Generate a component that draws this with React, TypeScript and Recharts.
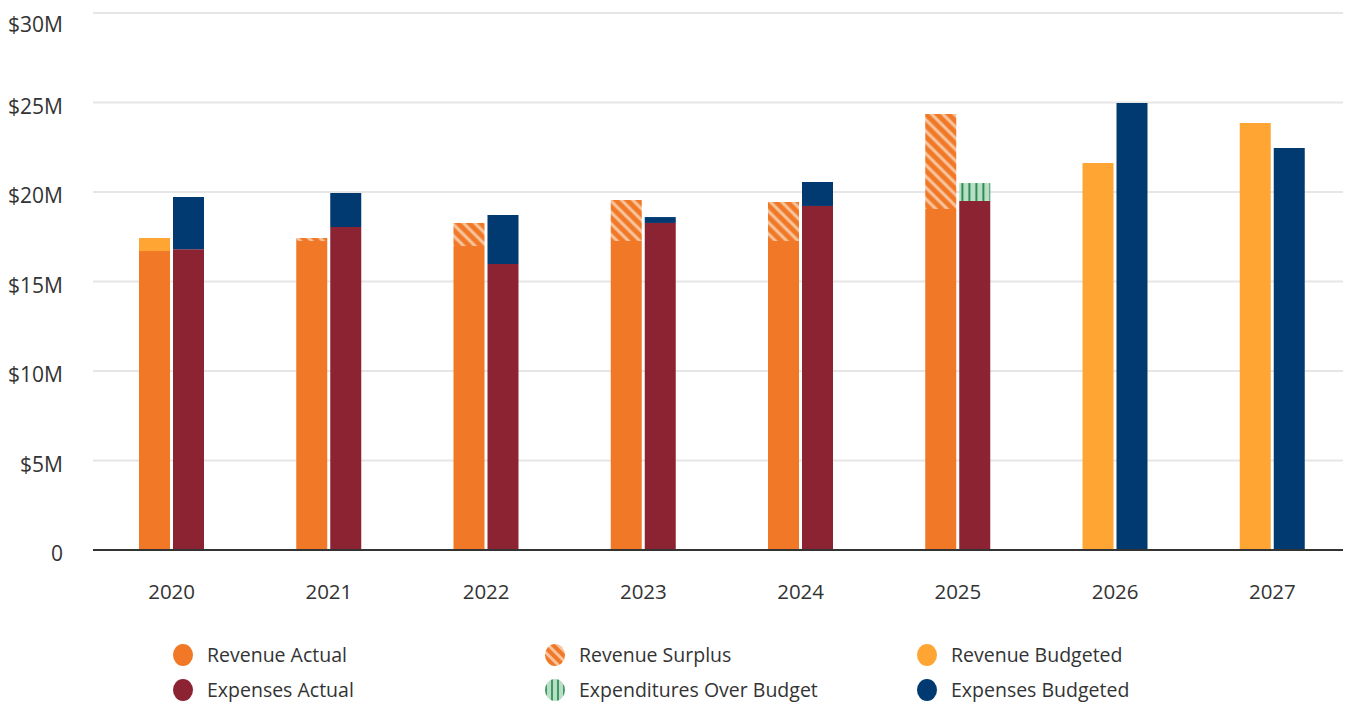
import React from 'react';
import { Bar, BarChart, CartesianGrid, ReferenceLine, XAxis, YAxis } from 'recharts';

const years = ['2020', '2021', '2022', '2023', '2024', '2025', '2026', '2027'];
const revenueActual = [16.7, 17.26, 16.98, 17.26, 17.26, 19.05, 0, 0];
const revenueSurplus = [0, 0.17, 1.29, 2.29, 2.18, 5.31, 0, 0];
const revenueBudgeted = [0.73, 0, 0, 0, 0, 0, 21.62, 23.85];
const expensesActual = [16.8, 18.04, 15.98, 18.27, 19.22, 19.5, 0, 0];
const expendituresOverBudget = [0, 0, 0, 0, 0, 1.0, 0, 0];
const expensesBudgeted = [2.92, 1.9, 2.74, 0.33, 1.34, 0, 24.97, 22.46];
const yTicks = [0, 5, 10, 15, 20, 25, 30];

const data = years.map((year, i) => ({
  year,
  revenueActual: revenueActual[i],
  revenueSurplus: revenueSurplus[i],
  revenueBudgeted: revenueBudgeted[i],
  expensesActual: expensesActual[i],
  expendituresOverBudget: expendituresOverBudget[i],
  expensesBudgeted: expensesBudgeted[i],
}));

const COLORS = {
  revenueActual: '#F07826',
  expensesActual: '#8B2332',
  revenueBudgeted: '#FFA533',
  expensesBudgeted: '#003A70',
};

const FONT = '"Open Sans", sans-serif';

const legendItems = [
  { label: 'Revenue Actual', fill: COLORS.revenueActual },
  { label: 'Revenue Surplus', fill: 'url(#surplusLegend)' },
  { label: 'Revenue Budgeted', fill: COLORS.revenueBudgeted },
  { label: 'Expenses Actual', fill: COLORS.expensesActual },
  { label: 'Expenditures Over Budget', fill: 'url(#overLegend)' },
  { label: 'Expenses Budgeted', fill: COLORS.expensesBudgeted },
];

function Patterns() {
  return (
    <defs>
      <pattern id='surplus' width='8' height='8' patternUnits='userSpaceOnUse' patternTransform='rotate(-45)'>
        <rect width='8' height='8' fill='#F07826' />
        <rect x='0' width='1' height='8' fill='#F4A064' />
        <rect x='1' width='2' height='8' fill='#F8C7A2' />
        <rect x='3' width='1' height='8' fill='#F4A064' />
      </pattern>
      <pattern id='overBudget' width='7' height='7' patternUnits='userSpaceOnUse'>
        <rect width='7' height='7' fill='#B9DEC5' />
        <rect x='1' width='1' height='7' fill='#5FB07E' />
        <rect x='2' width='1' height='7' fill='#2F8A55' />
        <rect x='3' width='1' height='7' fill='#7CC094' />
      </pattern>
    </defs>
  );
}

function formatY(v: number) {
  return v === 0 ? '0' : `$${v}M`;
}

function Legend() {
  return (
    <div
      style={{
        position: 'absolute',
        left: 164,
        top: 634,
        display: 'grid',
        gridTemplateColumns: '372px 372px 372px',
        rowGap: 10,
        fontFamily: FONT,
        fontSize: 19.5,
        color: '#333',
      }}
    >
      {legendItems.map((item) => (
        <div key={item.label} style={{ display: 'flex', alignItems: 'center', height: 25 }}>
          <svg width={22} height={24} style={{ marginRight: 13 }}>
            <defs>
              <pattern id='surplusLegend' width='7' height='7' patternUnits='userSpaceOnUse' patternTransform='rotate(-45)'>
                <rect width='7' height='7' fill='#F07826' />
                <rect x='0' width='3' height='7' fill='#F8C4A0' />
              </pattern>
              <pattern id='overLegend' width='6' height='6' patternUnits='userSpaceOnUse'>
                <rect width='6' height='6' fill='#B9DEC5' />
                <rect x='1' width='2' height='6' fill='#3E9A64' />
              </pattern>
            </defs>
            <ellipse cx={11} cy={12} rx={10} ry={11} fill={item.fill} />
          </svg>
          <span>{item.label}</span>
        </div>
      ))}
    </div>
  );
}

export default function App() {
  return (
    <div style={{ position: 'relative', width: 1343, height: 696 }}>
      <BarChart
        width={1343}
        height={620}
        data={data}
        margin={{ top: 5, right: 0, bottom: 0, left: 0 }}
        barCategoryGap={46}
        barGap={3}
      >
        <Patterns />
        <CartesianGrid vertical={false} stroke='#e6e6e6' strokeWidth={2} />
        <XAxis
          dataKey='year'
          axisLine={false}
          tickLine={false}
          tickSize={0}
          tickMargin={34}
          height={78}
          tick={{ fill: '#333', fontSize: 20.5, fontFamily: FONT }}
        />
        <YAxis
          type='number'
          domain={[0, 30]}
          ticks={yTicks}
          tickFormatter={formatY}
          axisLine={false}
          tickLine={false}
          tickSize={0}
          tickMargin={30}
          width={85}
          tick={{ fill: '#333', fontSize: 21, fontFamily: FONT, dy: 4 }}
        />
        <Bar dataKey='revenueActual' stackId='rev' fill={COLORS.revenueActual} isAnimationActive={false} />
        <Bar dataKey='revenueSurplus' stackId='rev' fill='url(#surplus)' isAnimationActive={false} />
        <Bar dataKey='revenueBudgeted' stackId='rev' fill={COLORS.revenueBudgeted} isAnimationActive={false} />
        <Bar dataKey='expensesActual' stackId='exp' fill={COLORS.expensesActual} isAnimationActive={false} />
        <Bar dataKey='expendituresOverBudget' stackId='exp' fill='url(#overBudget)' isAnimationActive={false} />
        <Bar dataKey='expensesBudgeted' stackId='exp' fill={COLORS.expensesBudgeted} isAnimationActive={false} />
        <ReferenceLine y={0} stroke='#333' strokeWidth={2} />
      </BarChart>
      <Legend />
    </div>
  );
}
